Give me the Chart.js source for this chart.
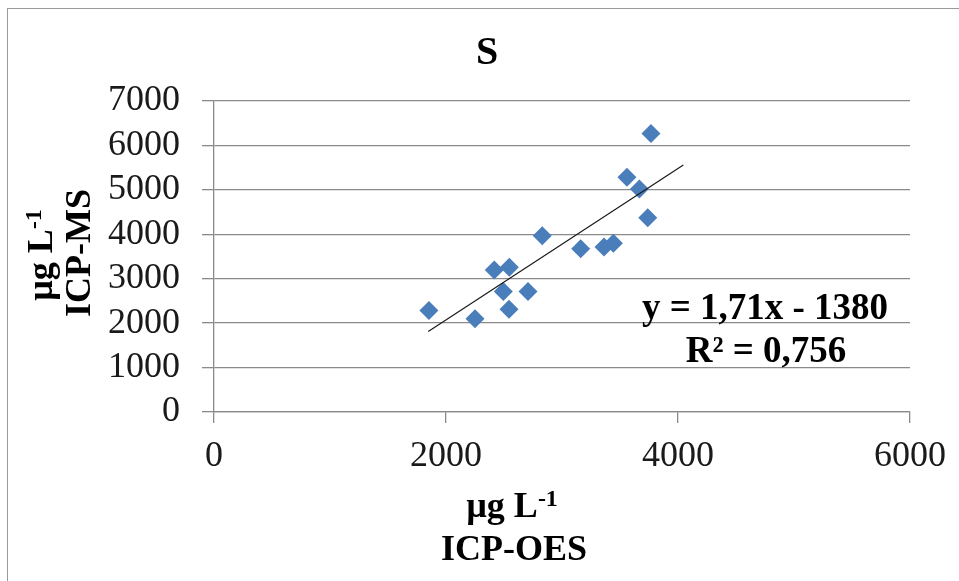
<!DOCTYPE html>
<html>
<head>
<meta charset="utf-8">
<script src="https://cdn.jsdelivr.net/npm/chart.js@4.4.1/dist/chart.umd.min.js"></script>
<style>
  html, body { margin: 0; padding: 0; background: #fff; overflow: hidden; }
  #wrap { position: relative; width: 959px; height: 581px; }
  #frame { position: absolute; left: 7px; top: 8px; width: 1000px; height: 1000px; border: 1.5px solid #9a9a9a; }
  #chart { position: absolute; left: 0; top: 0; }
</style>
</head>
<body>
<div id="wrap">
  <div id="frame"></div>
  <canvas id="chart" width="959" height="581"></canvas>
</div>
<script>
// valores (ICP-OES x ICP-MS, enxofre)
const icpOes = [1853, 2250, 2416, 2546, 2494, 2543, 2707, 2830, 3161, 3362, 3443, 3560, 3667, 3739, 3767];
const icpMs  = [2283, 2097, 3198, 3258, 2710, 2315, 2710, 3969, 3676, 3715, 3798, 5281, 5018, 4373, 6270];

// linha de tendência (extremos)
const trendX = [1847, 4046];
const trendY = [1811, 5557];

const xTicks = [0, 2000, 4000, 6000];
const yTicks = [0, 1000, 2000, 3000, 4000, 5000, 6000, 7000];

const chartTitle = 'S';
const equationText = 'y = 1,71x - 1380';
const r2Text = 'R² = 0,756';

const SERIF = '"Liberation Serif", "Times New Roman", serif';
const GRID = '#8a8a8a';

// desenha texto com expoente (ex.: µg L-1)
function drawWithSup(ctx, base, sup, size, supSize) {
  ctx.font = `bold ${size}px ${SERIF}`;
  const wBase = ctx.measureText(base).width;
  ctx.font = `bold ${supSize}px ${SERIF}`;
  const wSup = ctx.measureText(sup).width;
  const start = -(wBase + wSup) / 2;
  ctx.textAlign = 'left';
  ctx.textBaseline = 'alphabetic';
  ctx.font = `bold ${size}px ${SERIF}`;
  ctx.fillText(base, start, 0);
  ctx.font = `bold ${supSize}px ${SERIF}`;
  ctx.fillText(sup, start + wBase, -11);
}

const textPlugin = {
  id: 'textLabels',
  afterDraw(chart) {
    const ctx = chart.ctx;
    ctx.save();
    ctx.fillStyle = '#000';

    // título
    ctx.font = `bold 40px ${SERIF}`;
    ctx.textAlign = 'center';
    ctx.textBaseline = 'middle';
    ctx.fillText(chartTitle, 487, 54);

    // equação
    ctx.font = `bold 37px ${SERIF}`;
    ctx.fillText(equationText, 765, 309);
    ctx.fillText(r2Text, 766, 352);

    // título do eixo x
    ctx.save();
    ctx.translate(512, 517);
    drawWithSup(ctx, 'µg L', '-1', 36, 24);
    ctx.restore();
    ctx.font = `bold 36px ${SERIF}`;
    ctx.textAlign = 'center';
    ctx.textBaseline = 'alphabetic';
    ctx.fillText('ICP-OES', 514, 560);

    // título do eixo y (rotacionado)
    ctx.save();
    ctx.translate(52, 255);
    ctx.rotate(-Math.PI / 2);
    drawWithSup(ctx, 'µg L', '-1', 36, 24);
    ctx.restore();
    ctx.save();
    ctx.translate(90, 253);
    ctx.rotate(-Math.PI / 2);
    ctx.font = `bold 36px ${SERIF}`;
    ctx.textAlign = 'center';
    ctx.textBaseline = 'alphabetic';
    ctx.fillText('ICP-MS', 0, 0);
    ctx.restore();

    ctx.restore();
  }
};

const ctx = document.getElementById('chart').getContext('2d');
new Chart(ctx, {
  type: 'scatter',
  data: {
    datasets: [
      {
        label: 'S',
        data: icpOes.map((x, i) => ({ x: x, y: icpMs[i] })),
        pointStyle: 'rectRot',
        pointRadius: 9.5,
        pointHoverRadius: 9.5,
        backgroundColor: '#4a7ebb',
        borderColor: '#4a7ebb',
        borderWidth: 0,
        order: 2
      },
      {
        label: 'Linear',
        type: 'line',
        data: trendX.map((x, i) => ({ x: x, y: trendY[i] })),
        borderColor: '#1a1a1a',
        borderWidth: 1.2,
        pointRadius: 0,
        fill: false,
        order: 1
      }
    ]
  },
  options: {
    responsive: false,
    animation: false,
    layout: { padding: { left: 14, right: 49, top: 101, bottom: 0 } },
    plugins: {
      legend: { display: false },
      title: { display: false },
      tooltip: { enabled: false }
    },
    scales: {
      x: {
        type: 'linear',
        min: 0,
        max: 6000,
        afterBuildTicks: s => { s.ticks = xTicks.map(v => ({ value: v })); },
        afterFit: s => { s.height = 169; },
        grid: { drawOnChartArea: false, drawTicks: true, tickLength: 11, color: GRID, lineWidth: 1.3 },
        border: { display: true, color: GRID, width: 1.3 },
        ticks: {
          color: '#1a1a1a',
          padding: 12,
          maxRotation: 0,
          autoSkip: false,
          font: { family: SERIF, size: 36 },
          callback: v => String(v)
        }
      },
      y: {
        type: 'linear',
        min: 0,
        max: 7000,
        afterBuildTicks: s => { s.ticks = yTicks.map(v => ({ value: v })); },
        afterFit: s => { s.width = 200; },
        grid: { color: GRID, lineWidth: 1.3, tickLength: 12 },
        border: { display: true, color: GRID, width: 1.3 },
        ticks: {
          color: '#1a1a1a',
          padding: 22,
          autoSkip: false,
          font: { family: SERIF, size: 36, lineHeight: 1 },
          callback: v => String(v)
        }
      }
    }
  },
  plugins: [textPlugin]
});
</script>
</body>
</html>
